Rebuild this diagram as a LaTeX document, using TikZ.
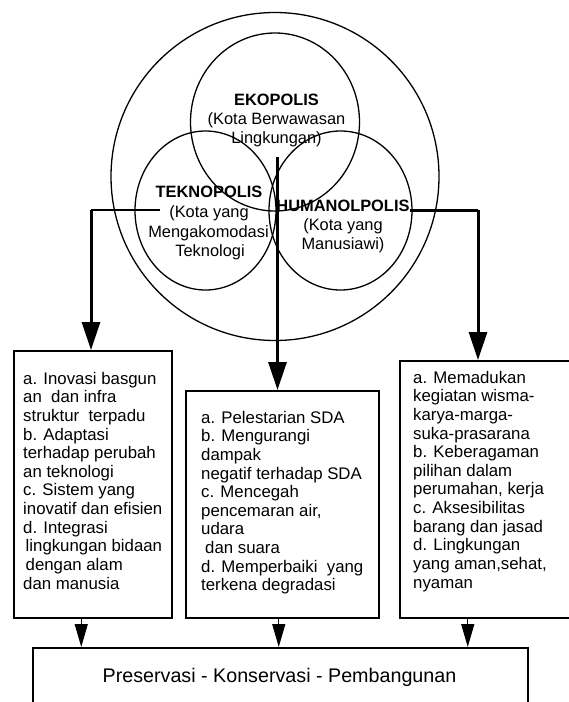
\documentclass[tikz,border=0pt]{standalone}
\usepackage{fontspec}
\setmainfont{Liberation Sans}
\usetikzlibrary{arrows.meta,shapes.geometric}
\begin{document}
\begin{tikzpicture}[x=1pt,y=-1pt,
  circ/.style={draw, ellipse, line width=1.3pt, inner sep=0pt},
  ctitle/.style={font=\fontsize{16.4}{19}\selectfont\bfseries, inner sep=0pt, anchor=base},
  ctext/.style={font=\fontsize{16.4}{19}\selectfont, inner sep=0pt, anchor=base},
  boxtext/.style={font=\fontsize{16.8}{18.65}\selectfont, align=left, inner sep=0pt, anchor=base west},
  frame/.style={draw, line width=1.5pt, inner sep=0pt, anchor=north west},
  thickarrow/.style={line width=3pt, -{Triangle[length=28pt,width=18pt]}},
  thinline/.style={line width=1.3pt},
  thinarrow/.style={line width=1.3pt, -{Triangle[length=23pt,width=13pt]}}]
\useasboundingbox (0,0) rectangle (569,702);

% circles
\node[circ, minimum width=328pt, minimum height=328pt] (outer) at (275,176.5) {};
\node[circ, minimum width=169pt, minimum height=178pt] (eko) at (275,122) {};
\node[circ, minimum width=141pt, minimum height=159pt] (tekno) at (205.5,210.5) {};
\node[circ, minimum width=143pt, minimum height=159pt] (human) at (340.5,210.5) {};

% circle texts
\node[ctitle] (ekoA) at (276.5,105) {EKOPOLIS};
\node[ctext] (ekoB) at (276.5,124) {(Kota Berwawasan};
\node[ctext] (ekoC) at (276.5,143) {Lingkungan)};

\node[ctitle] (tekA) at (209,197) {TEKNOPOLIS};
\node[ctext] (tekB) at (209,217) {(Kota yang};
\node[ctext] (tekC) at (208.5,237) {Mengakomodasi};
\node[ctext] (tekD) at (210,256) {Teknologi};

\node[ctitle] (humA) at (343,211) {HUMANOLPOLIS};
\node[ctext] (humB) at (343,230) {(Kota yang};
\node[ctext] (humC) at (343,249) {Manusiawi)};

% boxes
\node[frame, minimum width=158pt, minimum height=267pt] (boxL) at (13,350) {};
\node[frame, minimum width=193pt, minimum height=227pt] (boxM) at (185,390) {};
\node[frame, minimum width=200pt, minimum height=257pt] (boxR) at (399,360) {};
\node[frame, minimum width=495pt, minimum height=80pt] (boxB) at (32,647) {};

% box texts (base anchor = baseline of the last line)
\node[boxtext] (txtL) at (23,589.2) {a. Inovasi basgun\\an~ dan infra\\struktur~ terpadu\\b. Adaptasi\\terhadap perubah\\an teknologi\\c. Sistem yang\\inovatif dan efisien\\d. Integrasi\\\hspace*{2.5pt}lingkungan bidaan\\\hspace*{2.5pt}dengan alam\\dan manusia};
\node[boxtext] (txtM) at (201,590.9) {a. Pelestarian SDA\\b. Mengurangi\\dampak\\negatif terhadap SDA\\c. Mencegah\\pencemaran air,\\udara\\\hspace*{4pt}dan suara\\d. Memperbaiki~ yang\\terkena degradasi};
\node[boxtext] (txtR) at (413,588.2) {a. Memadukan\\kegiatan wisma-\\karya-marga-\\suka-prasarana\\b. Keberagaman\\pilihan dalam\\perumahan, kerja\\c. Aksesibilitas\\barang dan jasad\\d. Lingkungan\\yang aman,sehat,\\nyaman};
\node[font=\fontsize{19.7}{23}\selectfont, inner sep=0pt, anchor=base] (txtB) at (279.5,682) {Preservasi - Konservasi - Pembangunan};

% connectors from circles
\coordinate (lstart) at (160,210);
\coordinate (lbend) at (91,210);
\draw[thinline] (lstart) -- (lbend);
\draw[thickarrow] (lbend) -- (lbend |- boxL.north);

\coordinate (mtop) at (277.5,157);
\draw[thickarrow] (mtop) -- (mtop |- boxM.north);

\coordinate (rbend) at (478,210);
\draw[line width=3pt] (humA.base east |- rbend) -- (rbend);
\draw[thickarrow] (rbend) -- (rbend |- boxR.north);

% connectors to bottom box
\draw[thinarrow] ([xshift=-11.5pt]boxL.south) -- ([xshift=-11.5pt]boxL.south |- boxB.north);
\draw[thinarrow] ([xshift=-3.5pt]boxM.south) -- ([xshift=-3.5pt]boxM.south |- boxB.north);
\draw[thinarrow] ([xshift=-32pt]boxR.south) -- ([xshift=-32pt]boxR.south |- boxB.north);
\end{tikzpicture}
\end{document}
